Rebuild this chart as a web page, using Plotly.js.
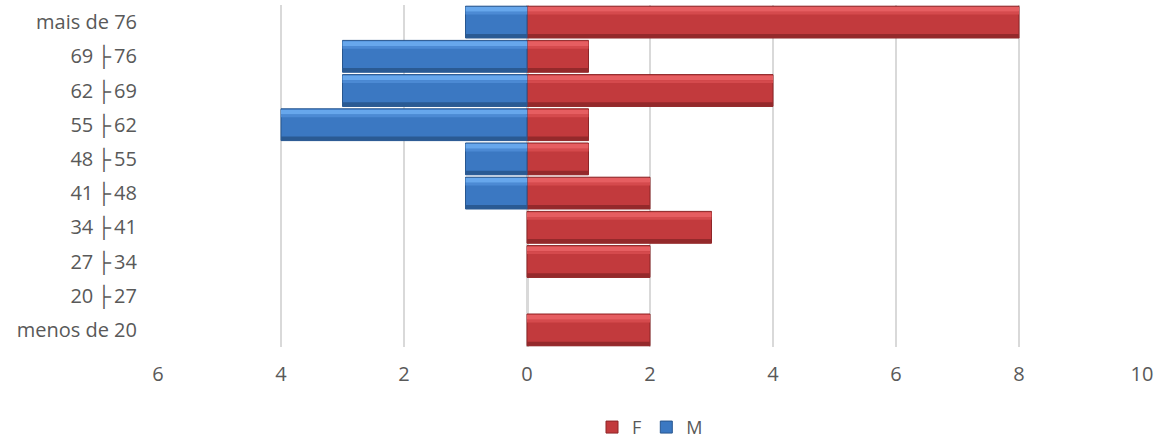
<!DOCTYPE html>
<html>
<head>
<meta charset="utf-8">
<script src="https://cdn.plot.ly/plotly-3.0.1.min.js"></script>
<style>html,body{margin:0;padding:0;background:#fff;}#chart{width:1161px;height:443px;}</style>
</head>
<body>
<div id="chart"></div>
<script>
const categories = ["menos de 20","20\u2009\u251C\u200927","27\u2009\u251C\u200934","34\u2009\u251C\u200941","41\u2009\u251C\u200948","48\u2009\u251C\u200955","55\u2009\u251C\u200962","62\u2009\u251C\u200969","69\u2009\u251C\u200976","mais de 76"];
const femaleValues = [2, 0, 2, 3, 2, 1, 1, 4, 1, 8];
const maleValues = [0, 0, 0, 0, 1, 1, 4, 3, 3, 1];
const tickValues = [-6,-4,-2,0,2,4,6,8,10];
const tickLabels = ["6","4","2","0","2","4","6","8","10"];

const femaleX = femaleValues.map(v => v === 0 ? null : v);
const maleX = maleValues.map(v => v === 0 ? null : -v);

function layer(name, x, color, offset, width, showlegend, lineColor) {
  return {
    type: 'bar', orientation: 'h', name: name, y: categories, x: x,
    offset: offset, width: width,
    marker: {color: color, line: {color: lineColor || 'rgba(0,0,0,0)', width: lineColor ? 1 : 0}},
    showlegend: showlegend, hoverinfo: 'x+y', legendgroup: name
  };
}

const BW = 0.93, B0 = -0.465;
const traces = [
  layer('F', femaleX, '#c23a3d', B0, BW, true, '#8e2527'),
  layer('F', femaleX, '#e65e61', 0.30, 0.14, false),
  layer('F', femaleX, '#d54a4d', 0.22, 0.08, false),
  layer('F', femaleX, '#94292b', B0, 0.12, false),
  layer('M', maleX, '#3b78c2', B0, BW, true, '#27568f'),
  layer('M', maleX, '#67a7ec', 0.30, 0.14, false),
  layer('M', maleX, '#4c8ad4', 0.22, 0.08, false),
  layer('M', maleX, '#2a5a93', B0, 0.12, false)
];

const layout = {
  width: 1161, height: 443,
  margin: {l: 158, r: 19, t: 5, b: 96, autoexpand: false},
  paper_bgcolor: '#ffffff', plot_bgcolor: '#ffffff',
  barmode: 'overlay',
  font: {family: 'Open Sans, Liberation Sans, sans-serif', size: 20, color: '#595959'},
  xaxis: {
    range: [-6, 10], tickvals: tickValues, ticktext: tickLabels,
    showgrid: true, gridcolor: '#d9d9d9', gridwidth: 2,
    zeroline: true, zerolinecolor: '#d9d9d9', zerolinewidth: 3,
    layer: 'above traces', automargin: false,
    showline: false, ticks: '', ticklabelstandoff: 13, fixedrange: true
  },
  yaxis: {
    type: 'category', categoryorder: 'array', categoryarray: categories,
    range: [-0.5, 9.5], automargin: false,
    showgrid: false, zeroline: false, showline: false, ticks: '',
    ticklabelstandoff: 20, fixedrange: true
  },
  showlegend: true,
  legend: {orientation: 'h', x: 0.5, xanchor: 'center', y: -0.235, yanchor: 'middle',
    font: {size: 18, color: '#595959'}, traceorder: 'normal', itemwidth: 30,
    borderwidth: 0, bgcolor: 'rgba(0,0,0,0)'}
};

Plotly.newPlot('chart', traces, layout, {displayModeBar: false, staticPlot: true});
</script>
</body>
</html>
